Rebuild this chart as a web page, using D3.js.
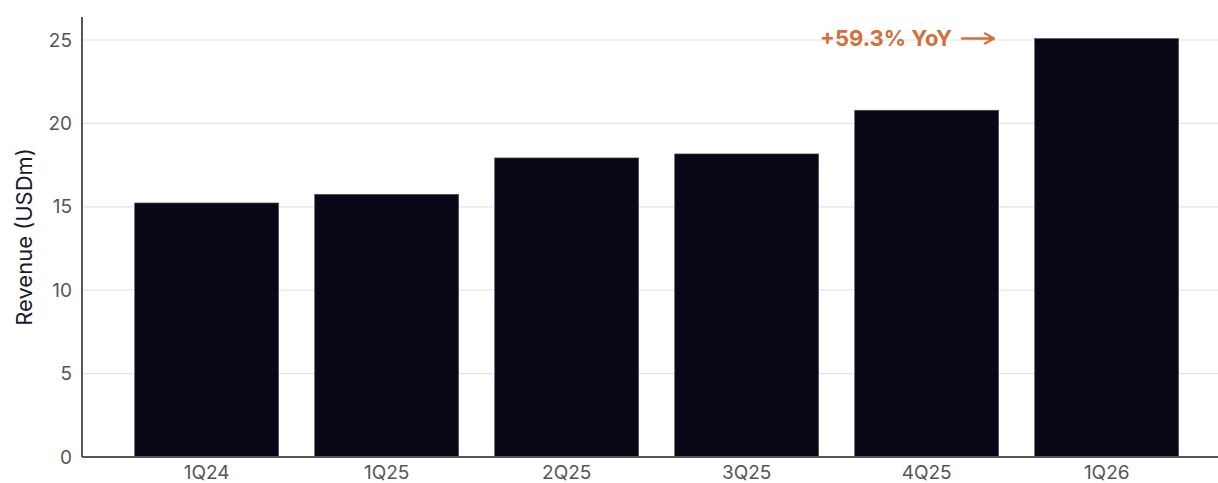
<!DOCTYPE html>
<html>
<head>
<meta charset="utf-8">
<script src="https://cdn.jsdelivr.net/npm/d3@7"></script>
<style>
  body { margin: 0; background: #fff; }
  svg { display: block; font-family: Inter, Lato, sans-serif; }
</style>
</head>
<body>
<script>
// data
var quarters = ['1Q24', '1Q25', '2Q25', '3Q25', '4Q25', '1Q26']
var revenue = [15.23, 15.75, 17.93, 18.17, 20.79, 25.09]
var yTicks = [0, 5, 10, 15, 20, 25]
var growthLabel = '+59.3% YoY'

var width = 1218
var height = 483
var axisX = 82
var plotTop = 17
var plotBottom = 457

var svg = d3.select('body').append('svg')
  .attr('width', width)
  .attr('height', height)

var y = d3.scaleLinear()
  .domain([0, 25])
  .range([plotBottom, 40])

var x = d3.scaleBand()
  .domain(quarters)
  .range([98.7, 1214.7])
  .paddingInner(0.2)
  .paddingOuter(0.2)

// grid
svg.append('g')
  .selectAll('line')
  .data(yTicks.slice(1))
  .join('line')
  .attr('x1', axisX)
  .attr('x2', width)
  .attr('y1', function (d) { return y(d) })
  .attr('y2', function (d) { return y(d) })
  .attr('stroke', '#e4e4e4')
  .attr('stroke-width', 1.2)

// bars
svg.append('g')
  .selectAll('rect')
  .data(revenue)
  .join('rect')
  .attr('x', function (d, i) { return x(quarters[i]) })
  .attr('y', function (d) { return y(d) })
  .attr('width', x.bandwidth())
  .attr('height', function (d) { return y(0) - y(d) })
  .attr('fill', '#0a0716')
  .attr('stroke', '#55536a')
  .attr('stroke-width', 0.6)

// y axis
var yAxis = svg.append('g')
  .attr('transform', 'translate(' + axisX + ',0)')
  .call(d3.axisLeft(y).tickValues(yTicks).tickSize(0).tickPadding(10))
yAxis.select('.domain').attr('stroke', '#555').attr('stroke-width', 2)
  .attr('d', 'M0,' + plotTop + 'V' + plotBottom)
yAxis.selectAll('text')
  .attr('font-size', 19)
  .attr('fill', '#555')
  .attr('font-family', 'Inter, sans-serif')

// x axis
var xAxis = svg.append('g')
  .attr('transform', 'translate(0,' + plotBottom + ')')
  .call(d3.axisBottom(x).tickSize(0).tickPadding(9))
xAxis.select('.domain').attr('stroke', '#555').attr('stroke-width', 2)
  .attr('d', 'M' + axisX + ',0H' + width)
xAxis.selectAll('text')
  .attr('font-size', 19)
  .attr('fill', '#555')
  .attr('font-family', 'Inter, sans-serif')

// y label
svg.append('text')
  .attr('transform', 'translate(32,' + ((plotTop + plotBottom) / 2) + ') rotate(-90)')
  .attr('text-anchor', 'middle')
  .attr('font-size', 22)
  .attr('fill', '#1b1a2a')
  .text('Revenue (USDm)')

// annotation
var last = quarters.length - 1
var ay = y(revenue[last])
svg.append('text')
  .attr('x', 952)
  .attr('y', ay + 8)
  .attr('text-anchor', 'end')
  .attr('font-size', 22)
  .attr('font-weight', 'bold')
  .attr('fill', '#d2703a')
  .text(growthLabel)

svg.append('path')
  .attr('d', 'M962,' + ay + 'H993 M985,' + (ay - 5) + 'L994,' + ay + 'L985,' + (ay + 5))
  .attr('fill', 'none')
  .attr('stroke', '#d2703a')
  .attr('stroke-width', 2.4)
  .attr('stroke-linecap', 'round')
  .attr('stroke-linejoin', 'round')
</script>
</body>
</html>
